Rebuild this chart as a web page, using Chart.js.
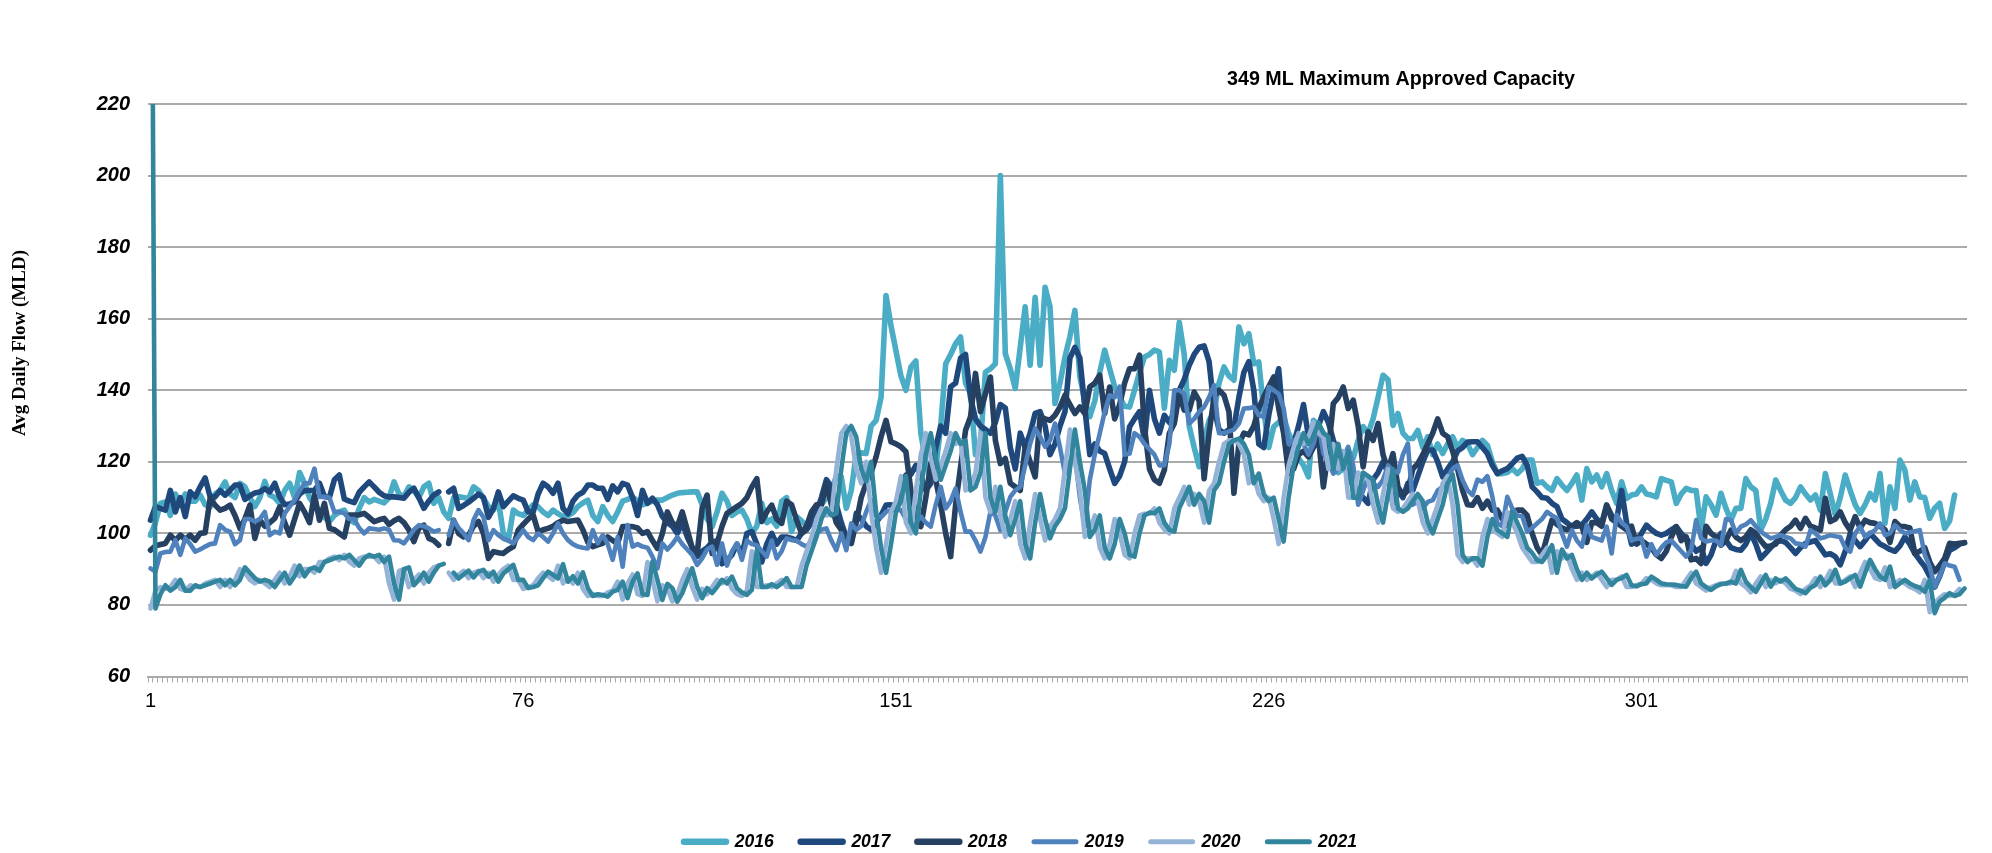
<!DOCTYPE html>
<html lang="en">
  <head>
    <meta charset="utf-8" />
    <title>Avg Daily Flow</title>
    <style>
      * {
        margin: 0;
        padding: 0;
      }
      body {
        background: white;
      }
      canvas {
        display: block;
      }
    </style>
  </head>
  <body>
    <canvas id="myChart" width="1992" height="853"></canvas>

    <script src="https://cdn.jsdelivr.net/npm/chart.js"></script>

    <script>
      const days = Array.from({ length: 366 }, (_, i) => String(i + 1));
      const xTickLabels = ["1", "76", "151", "226", "301"];
      const yTicks = [60, 80, 100, 120, 140, 160, 180, 200, 220];
      const years = ["2016", "2017", "2018", "2019", "2020", "2021"];

      const values2016 = [
        99.5,103,108.4,108.8,105,111,108,111,109,109,110.7,108,107.4,111,112,
        114.4,111,110,114,113,110,107.5,110,114.5,110.7,110,108.4,112,114,110,
        117,114,110,108,106,104.5,103.3,105,106,106.5,104,103,107,110,108.8,
        109.5,109,108.5,110,114.4,111,110.3,113,112,110,113,114,108.4,110,106,
        104.2,110,110.2,110,109.7,113,112,109.8,107.5,106.5,109,100,98.1,106.5,105.5,
        105,106.5,108,107.4,106,105,106.5,105.5,104.7,105,105.8,107.5,108.5,109.3,105,
        103.3,107.5,105,103.3,106,109,109.5,110.2,109,108,108.5,109,109.3,109.3,110,
        110.7,111.2,111.4,111.5,111.6,111.6,108,104,101.9,106,111.2,109,105,106,106.5,
        104,100,102,108.4,103,104,102,109,110,100.5,104.7,103.5,102,103,106,
        108,110,112,116,115.8,107,112,122,122.5,122.3,130,131.6,138,166.5,158,
        151,144,140,146.5,148.2,128,120,115,118,130,147.4,150,153,154.9,142,
        139,122,125,145.1,146,147.4,200,150.2,146,140.5,152,163.3,147,166,147,
        168.8,163.3,136.3,142,149.3,155,162.3,143.7,137,132.6,137,145,151.2,146,141,
        138,135.5,135.3,140,145,149.3,150,151.2,150.7,135,148.4,145.6,159,150,130,
        124,118.6,126,131.6,134,142,146.5,144,142.8,157.7,153,155.8,147.4,147.9,134.4,
        124,129.8,131,132.6,128,125,121,119,115.8,131.6,130,128,123,121,117,
        118,120,121,126,129.8,128,132,138,144.2,143,130.2,133.5,128,126.5,126.5,
        128.8,124,127,122,125,122.3,125,127,124,126,125,122,124,126,124.6,
        120,116.7,116.7,117,118.1,116.7,118,120.5,120.5,114,114.4,113,112,115.3,113.5,
        112,114,116.3,109.3,118.1,114.4,116.3,113,116.7,112,108.4,114.4,109.8,110.7,111,
        113,111,110.7,110.2,115.3,114.8,114.4,108.4,111,112.6,112,112,100.9,110.2,108,
        105.1,111.2,107,103.7,107,107,115.3,113,112,100.9,104,108.4,114.9,112,109.3,
        108.4,110,113,111,109.3,110.7,106.5,116.7,111,105.1,110,116.3,112,108,105.6,
        108,111.2,109.3,116.7,102.8,113,107,120.5,117.7,109.3,114.4,110.2,110,104.2,107,
        108.4,101.4,103.5,110.7,null,null,
      ];

      const values2017 = [
        103.7,107.5,107,106.5,112,106,110,104.7,111.6,110.2,113,115.5,110.2,110.2,112,
        110.7,112,113.5,113.5,109.5,110.5,111.3,111.6,112.5,111.6,114,110.2,108,108.2,108.8,
        111,112,112,112,114,110.3,110,115,116.3,109.6,109,108.6,111.5,113,114.4,
        113,111.5,110.5,110.2,110.2,110,109.8,111.5,112.6,110,107,109,110.7,111.6,null,
        111.6,112.6,107,107.8,108.7,109.8,111,110,104.5,107,111.6,107.5,109,110.5,109.8,
        109.3,106,106,111,114,113,111.2,114,107,105.5,109,110.7,111.5,113.5,113.5,
        112.6,112.6,109.5,113.3,111.6,114,113.5,110,105,112,108.4,109.8,108,104.7,103,
        102,100,103,99,96,93.5,95,96,97.5,98,91.5,92.5,94,97,94,
        100,100.5,97,92,97,100,97,99,99,98.6,98,100,101,103,106,
        110,115,113,108,103,99,97.2,105.6,104,102,101,103,105,107.9,108,
        107.4,110,116.3,116.5,119,116,112,114,124,130,128,141,142,149,150,
        138,132,130,129,128,131,136,135,124,118,128,124,128,133.5,134,
        130,122,125,130,134,149,152,149,135,122,125,123,122.3,118,114,
        116,120,129.8,132,134,126,140,132,128,133,131,134,140,143,147,
        150,152,152.4,148,135,129,128,129,129.5,138,145,148,140,125,124,
        133,140,146,130,120.5,125,130,136,127,127,130,134,131,126,122,
        119,116.7,113,111,110,108.4,115,117,120,117,108,112,110,114,112,
        116,120,123.3,123.3,120,115.8,118,120,123,124,125.5,125.6,125.6,124,122.3,
        119,116.7,117.5,118.1,119.5,121,121.5,119,113,111.6,110,109.8,108.4,107.5,104,
        103,101.9,102,102.3,104,106,104,102.8,107.9,105,103.7,112,103,97,98,
        100,102.3,101,100,99.5,100,101,101.9,100,98.5,97,95,96,91.6,94,
        98,100,98,96,95.5,95.3,97,100,97,93,94.5,96,97.5,98,97.5,
        96,94.4,96,97.2,97.6,98,96,94,94.3,93.5,91.2,95,100,98,96.3,
        98,100,98.5,97,96.3,95.5,95,96.5,99,97,94.4,92.5,90.7,88,85,
        88,92,95.3,96,97,97.4,
      ];

      const values2018 = [
        95.3,96.5,96.9,97.2,99.5,98,99.5,98.3,99.5,98.1,100,100.2,109.8,107.9,106.5,
        107,107.9,105,101.4,104,107.9,98.6,103.7,102,103,104.2,107.4,103,99.5,104,
        108.4,106,103,110.7,103.7,108.4,101.4,101,100,99,105.1,105.1,105.2,105.6,104.5,
        103.3,103.8,104.2,102.5,103.5,104.2,103,101,97.7,101.4,102.3,98.6,98,96.7,null,
        97.2,103.7,100,99,99.5,102,103.3,100,93,94.9,94.6,94.4,95.5,96.3,100.9,
        102.5,104,105.1,100.5,101,101.4,102,103,103.7,103.3,103.5,103.7,101,97.5,96.3,
        96.8,97.2,99,98,97.2,101.9,101.9,101.9,101.5,100,100.5,98,95.8,100,106,
        103,101.9,106,101,96,94.4,107,110.7,94.4,97.2,102,105.6,106.5,107.5,108.4,
        110,113,115.3,103.3,106,107.9,104,102.8,109,108,103.7,100,102,106,108,
        108,114,108,103,101,98,97.2,103,110,114,117,121.4,127,131.6,125.6,
        125,124.2,122.8,112,105,101.9,110,119.5,115,108,100,93.5,108,118.6,128.8,
        132.6,144.7,134,139,143.7,126,119.5,120.9,114,113,112,124.2,120,115.8,132.6,
        132,131.6,133,135.3,138.6,136,133.5,135.3,133.5,140.9,142,144.2,133.5,140.9,132,
        136,142,146,146,149.8,129.8,118,115,114,117.7,128,130.7,139,134.4,134.4,
        139.5,137,115.3,128,138,140,138.6,134,111.2,125,128,127.5,130,135,138.1,
        141,143.7,135,128,116.7,118,122,123,121.4,124,127,113,123,136.3,138,
        140.9,134.9,137.2,130,118.6,128.4,126,130.7,122,117.7,122.3,113,110.7,112,118,
        119.5,122,125,128,132,128,127,123,118,112,108,107.9,110,107,109,
        106.5,106.5,104,102.3,106,106.5,106.5,105,100,96,94,99,103.7,102.5,101.5,
        101,102,103,102,97.5,103,103,102,107.9,104,103,102,101,102,97,
        98,97,96,94,93,95,99,101.9,98,99,92.6,93,91.6,102,100,
        99,96.7,98,100.9,99,98,99,101,100,98,96.3,96.5,97,99.5,101,
        102,103.7,101.4,104.2,102,101.5,100.9,109.8,103.3,104,106,103,100.9,104.7,101.5,
        103.7,103,102.8,102,101,97.5,103.3,102,101.9,101.5,94.4,95,96,92,89.3,
        91,93,97.2,97,97.2,97.4,
      ];

      const values2019 = [
        90.2,89.3,94.4,94.8,94.9,98.1,94,98.6,97,94.9,95.5,96.3,97,97.2,102.3,
        101,100.5,97,98.1,104,104,103.3,104,106,99.5,100.5,100,105.6,107.5,109.3,
        112,114,114,118.1,110.2,110.2,110,106,106,105.6,104,104,101.5,100,101.4,
        101.2,101,101.4,101,98.1,98,97.2,99,101,102.3,102,101.4,100.5,100.9,null,
        99.5,103.7,101.5,100,98.1,103.7,106.5,104.5,98.1,100.9,99.5,98.5,98,97.2,99,
        100.9,99,98.1,100,99,97.7,100,102.8,100,98.1,97,96.3,96,95.8,100.9,
        97.2,99.5,97,92.6,99,90.7,102.3,96.3,97,96.3,96,93.5,90.2,97.2,95.5,
        97,99,97,95.5,94,91.2,93,95.5,96.3,91.2,97.2,91,95,97.2,92.6,
        98,97,96.7,95,93.5,98,93,95,98.6,98.1,98,97,96.3,98,100,
        101,101.4,98,95.3,100,95.3,102.8,101,102,106,109.3,105,104.5,106,106.5,
        106.5,106.5,104,102.3,103,104.7,103,101.9,108,113,107,109,112.6,106,100.5,
        100.5,98,94.9,99,106,105,100.9,106,110.2,112,113,119,125.1,129.3,127,
        124.2,126,130.7,124,116.7,120,122,110,101.9,115,122,127.9,134,138.6,138,
        141,122,122.3,128,127,125,123.5,122,119,119,125,140,140,139,130.7,
        132,134,135.3,138,141.4,128,128,128.5,129,130.7,134.9,135,135.3,133,132.6,
        140.9,140,139,135,125,126,127,125,122,125,130.7,122.3,120,116.7,118,
        121,124.2,119,108,112,115.8,114,113,115,119,117.5,117,122,125.1,108,
        109,107,108.8,109.3,112,113,115.8,118,119,114.9,112,110.7,115,114.4,116,
        110.2,102.8,102,110.2,107,105,104.8,100.5,101.5,102.8,104,106,105,104.2,100,
        96.3,100.9,98,96.3,102.3,99,98.5,98,101.9,94.4,105.1,103,101.9,98,98.5,
        98.6,93.5,97,94,96,97.5,98,96.5,95,93.5,95.3,103.7,98.6,97.7,98,
        98,96.7,104,103.7,100,101.9,102.5,103.7,102,100.5,99.5,98.6,99,99.5,99,
        98.6,97.2,97,96.3,100.9,100,98.6,99,99.5,99.2,99,96,94.9,100,101.9,
        99,100,100.9,102.8,99.5,100,102.3,101,100,100.3,100.6,100.9,94,90.7,85.1,
        88,91.6,91,90.7,87,null,
      ];

      const values2020 = [
        79,84,85,84.5,85,87,84.5,84,85.5,85,85,86,86.5,87,85,
        87,85,87,90,89,87,86,87,86,85,87,89,86,88,91,
        88,90,90,89,92,92,93,93.5,92.5,94,92,91,93,93.5,93.5,
        93.5,92,93.5,86,81.5,89.5,90,85,87,88.5,86,89,90.5,91,null,
        89,87,88.5,89.5,87.5,89,89.5,87.5,89,86.5,88.5,90,91,87,87,
        84.5,85,85.5,87.5,89,88,87,91,86,87.5,86,89,84.5,82.5,83,
        82.5,82.5,83.5,84,86.5,81.5,86,88.5,83,82.5,92,87,81,85.5,84.5,
        81,83,87,90,85,81.5,84.5,83,85,87,86,87.5,84.5,83,82.5,
        84,95,85,85,85.5,85,86,87,85,85,85,91,95,99,104,
        107,105,105.5,118,128,130,127,118,114,120,106,96,89,97,106,
        109,116,103,100,112,122,128,121,115,119,123,128,125,126,112,
        113,117,128,110,106,113,105,99,104,109,97,93,103,111,104,
        98,102,104,107,118,129,120,112,99,101,105,96,93,97,104,
        100,94,93,100,105,105.5,105.5,107,103,101,100,107,110,113,108,
        111,109,103,112,114,120,125,126,126,125,122,114,116,111,109,
        110,104,97,110,119,124,128,125,127,131,128,127,118,125,118,
        123,110,110,117,116,115,108,103,111,118,107,106,107,109,111,
        109,103,100,104,108,114,116,108,94,92,93,93,91,99,104,
        101,100,99,106,103,100,96,94,92,92,94,96,89,95,93,
        94,90,87,89,87,88,89,87,85,87,87,88,85,85,85.5,
        86,87.5,87,86,85.5,85.5,85.5,85,85,87,89,86,85,84,85,
        85.5,86,86,86,89.5,86,85,83.5,86,88,85,87,86,87,86,
        84.5,84,83,84.5,85.5,87.5,85,87,89.5,86,86,87,88,85,89,
        92,90,87.5,87,90.5,85,86,87,86,85,84.5,83.5,87,78,80.5,
        82,83,82.5,83,84.5,null,
      ];

      const values2021 = [
        349,79,83,85.5,84,85,87,84,84,85.5,85,85.5,86,86.5,87,
        85.5,87,85.5,87,90.5,89,87.5,86.5,87,86.5,85,87,89,86,88,
        91,88,90,90.5,89.5,92,92.5,93,93.5,93,94,92.5,91,93,94,
        93.5,94,92,93.5,86,81.5,90,90.5,85.5,87,89,86.5,89,91,91.5,
        null,89,87.4,88.5,89.6,87.7,89.3,89.8,87.9,89.3,86.5,88.8,90,91.2,87,
        87,84.7,85,85.5,87.5,89.3,88.4,87.4,91.4,86.5,88,86,89.1,84.7,82.5,
        83,82.8,82.3,83.7,84.2,86.5,81.9,86.5,88.8,83,82.8,92.1,87,81.4,85.9,
        84.7,80.9,83.3,87,90.2,85,81.9,84.7,83.3,85,87,86,87.9,84.7,83.5,
        82.8,84.2,95.3,85,85,85.8,85,86,87.5,85,85,85,91,95,99,
        104,107,105,105.6,118,128,130,127,118,114.5,120,106,96,89,97,
        106,109,116,103,100,112,122,128,121,115,119,123,128,125,126,
        112,113,117,128,110,106,113,105,99.5,104,109,97,93,103,111,
        104,98.6,102,104,107,118,129,120,112,99,101,105,96,93,97,
        104,100,94,93.5,100,105,105.8,105.6,107,103,101,100.5,107,110,113,
        108,111,109,103,112,114,120,125,126,126.5,125,122,114,116.7,111,
        109,110,104,97.7,110,119,124,128,125,127,131,128,127,118,125,
        118,123,110,110,117,116,115,108,103,111,118,107,106,107,109,
        111,109,103,100,104,108,114,116.5,108,94,92,93,93,91,99,
        104,101,100,99,106,103,100,96,94.5,92.5,92,94,96.7,89,95.5,
        93,94,90,87,89,87.4,88.5,89.3,87.5,85.6,87,87.5,88.4,85.5,85.2,
        85.8,86,87.9,87,86,85.8,85.7,85.6,85.3,85.1,87.5,89.3,86,85,84.2,
        85.2,85.8,86,86.5,86,89.8,86.5,85,83.7,86,88.4,85.1,87.4,86.5,87.4,
        86,84.5,84,83.3,84.8,85.6,87.9,85.5,87,89.8,86,86.5,87.5,88.4,85.1,
        89,92.6,90,87.9,87,90.7,85,86,87,86,85.3,84.8,83.7,87,77.7,
        81,82,83.3,82.5,83,84.6,
      ];

      const seriesValues = [values2016, values2017, values2018, values2019, values2020, values2021];
      const seriesColors = ["#4bacc6", "#1f497d", "#254061", "#4f81bd", "#95b3d7", "#31859c"];
      const lineWidths = [5.6, 5.6, 5.6, 4.6, 4.6, 4.6];
      const legendWidths = [6.5, 6.5, 6.5, 5, 5, 5];

      const GRID_COLOR = "#aaaaaa";
      const SANS = "'Liberation Sans', Arial, sans-serif";

      const datasets = years.map((year, i) => ({
        label: year,
        data: seriesValues[i],
        borderColor: seriesColors[i],
        backgroundColor: seriesColors[i],
        borderWidth: lineWidths[i],
        borderJoinStyle: "round",
        borderCapStyle: "round",
        pointRadius: 0,
        tension: 0,
        spanGaps: false,
        // later years paint on top
        order: years.length - i,
      }));

      // nudges the legend and writes the two free text labels
      const chartNotes = {
        id: "chartNotes",
        afterLayout(chart) {
          chart.legend.left += 37;
          chart.legend.right += 37;
          chart.legend.top += 7.5;
          chart.legend.bottom += 7.5;
        },
        afterDraw(chart) {
          const { ctx } = chart;
          ctx.save();
          ctx.fillStyle = "#000";
          ctx.textAlign = "center";
          ctx.textBaseline = "middle";
          ctx.font = "bold 19.7px " + SANS;
          ctx.fillText("349 ML Maximum Approved Capacity", 1401, 80);
          ctx.translate(20, 343);
          ctx.rotate(-Math.PI / 2);
          ctx.font = "bold 19px 'Liberation Serif', serif";
          ctx.fillText("Avg Daily Flow (MLD)", 0, 0);
          ctx.restore();
        },
      };

      const config = {
        type: "line",
        data: { labels: days, datasets: datasets },
        plugins: [chartNotes],
        options: {
          responsive: false,
          animation: false,
          layout: {
            padding: { top: 104, right: 25, left: 0, bottom: 0 },
          },
          plugins: {
            tooltip: { enabled: false },
            legend: {
              position: "bottom",
              labels: {
                usePointStyle: true,
                pointStyleWidth: 42,
                padding: 27,
                color: "#000",
                font: { family: SANS, size: 17.5, weight: "bold", style: "italic" },
                generateLabels: () =>
                  years.map((year, i) => ({
                    text: year,
                    strokeStyle: seriesColors[i],
                    fillStyle: seriesColors[i],
                    lineWidth: legendWidths[i],
                    lineCap: "round",
                    pointStyle: "line",
                    fontColor: "#000",
                    datasetIndex: i,
                  })),
              },
            },
          },
          scales: {
            x: {
              type: "category",
              offset: true,
              afterFit: (scale) => {
                scale.height = 122;
              },
              border: { display: true, color: GRID_COLOR, width: 2 },
              grid: {
                offset: true,
                drawOnChartArea: false,
                drawTicks: true,
                tickLength: 6,
                tickColor: GRID_COLOR,
                tickWidth: 1,
              },
              ticks: {
                autoSkip: false,
                maxRotation: 0,
                minRotation: 0,
                padding: 7,
                color: "#000",
                font: { family: SANS, size: 20 },
                callback: function (value) {
                  const label = this.getLabelForValue(value);
                  return xTickLabels.includes(label) ? label : "";
                },
              },
            },
            y: {
              min: 60,
              max: 220,
              afterFit: (scale) => {
                scale.width = 148;
              },
              afterBuildTicks: (scale) => {
                scale.ticks = yTicks.map((v) => ({ value: v }));
              },
              border: { display: false },
              grid: {
                color: GRID_COLOR,
                lineWidth: 2,
                drawTicks: false,
              },
              ticks: {
                padding: 18,
                color: "#000",
                font: { family: SANS, size: 20, weight: "bold", style: "italic" },
              },
            },
          },
        },
      };

      const myChart = new Chart(document.getElementById("myChart"), config);
    </script>
  </body>
</html>
